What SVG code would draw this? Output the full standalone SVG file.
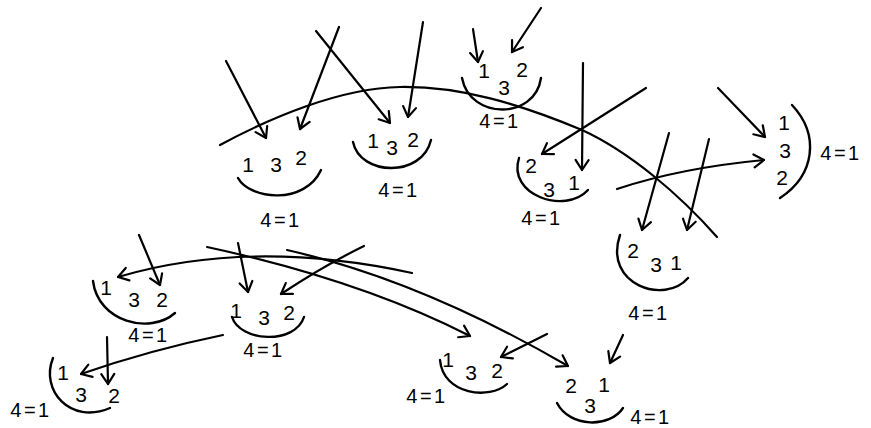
<svg xmlns="http://www.w3.org/2000/svg" width="871" height="428" viewBox="0 0 871 428">
<style>
.ln{fill:none;stroke:#000;stroke-width:2.2;stroke-linecap:round;stroke-linejoin:round}
.ar{fill:none;stroke:#000;stroke-width:2.2;stroke-linecap:round;marker-end:url(#ah)}
.br{fill:none;stroke:#000;stroke-width:2.4;stroke-linecap:round}
.d{font-family:"Liberation Sans",Arial,sans-serif;font-size:21px;text-anchor:middle;fill:#000}
.lb{font-family:"Liberation Sans",Arial,sans-serif;font-size:20px;text-anchor:middle;fill:#000;letter-spacing:2.5px}
</style>
<defs>
<marker id="ah" viewBox="-12 -8 14 16" refX="0" refY="0" markerWidth="14" markerHeight="16" markerUnits="userSpaceOnUse" orient="auto">
<path d="M-10,-6.5 L0,0 L-10,6.5" fill="none" stroke="#000" stroke-width="2.2" stroke-linecap="round" stroke-linejoin="round"/>
</marker>
</defs>
<g id="connectors">
<path class="ln" d="M220,145 C270,118 340,88 400,87 C460,86 520,104 582,130 C630,152 680,195 717,237"/>
<path class="ar" d="M226,61 L266,138"/>
<path class="ar" d="M339,27 L300,129"/>
<path class="ar" d="M316,31 L390,123"/>
<path class="ar" d="M423,22 L408,117"/>
<path class="ar" d="M473,29 L478,62"/>
<path class="ar" d="M541,8 L512,52"/>
<path class="ar" d="M583,63 L582,170"/>
<path class="ar" d="M646,88 L542,154"/>
<path class="ar" d="M718,88 L765,137"/>
<path class="ar" d="M617,189 Q680,168 764,160"/>
<path class="ar" d="M669,133 L642,230"/>
<path class="ar" d="M709,139 L687,230"/>
<path class="ar" d="M412,273 Q250,238 118,277"/>
<path class="ar" d="M139,235 L160,285"/>
<path class="ar" d="M238,243 L248,292"/>
<path class="ar" d="M364,246 Q325,265 281,294"/>
<path class="ar" d="M223,335 Q150,350 81,374"/>
<path class="ar" d="M107,337 L108,384"/>
<path class="ar" d="M207,247 Q360,280 470,336"/>
<path class="ar" d="M287,250 Q420,280 568,366"/>
<path class="ar" d="M547,334 L501,357"/>
<path class="ar" d="M623,335 L610,363"/>
</g>
<g id="nodeA">
<path class="br" d="M238,178 C250,200 305,205 321,170"/>
<text class="d" x="248" y="172">1</text><text class="d" x="276" y="172">3</text><text class="d" x="301" y="165">2</text>
<text class="lb" x="281" y="227">4=1</text>
</g>
<g id="nodeB">
<path class="br" d="M353,142 C360,176 422,178 431,140"/>
<text class="d" x="373" y="148">1</text><text class="d" x="392" y="155">3</text><text class="d" x="413" y="147">2</text>
<text class="lb" x="399" y="197">4=1</text>
</g>
<g id="nodeC">
<path class="br" d="M462,78 C470,120 535,120 541,78"/>
<text class="d" x="484" y="78">1</text><text class="d" x="504" y="95">3</text><text class="d" x="522" y="77">2</text>
<text class="lb" x="500" y="128">4=1</text>
</g>
<g id="nodeE">
<path class="br" d="M519,158 C507,195 565,215 588,190"/>
<text class="d" x="531" y="173">2</text><text class="d" x="549" y="197">3</text><text class="d" x="574" y="190">1</text>
<text class="lb" x="542" y="225">4=1</text>
</g>
<g id="nodeF">
<path class="br" d="M620,235 C603,285 665,305 688,278"/>
<text class="d" x="633" y="258">2</text><text class="d" x="656" y="272">3</text><text class="d" x="676" y="270">1</text>
<text class="lb" x="649" y="320">4=1</text>
</g>
<g id="nodeG">
<path class="br" d="M792,105 C820,135 815,175 780,198"/>
<text class="d" x="784" y="130">1</text><text class="d" x="785" y="158">3</text><text class="d" x="782" y="185">2</text>
<text class="lb" x="841" y="160">4=1</text>
</g>
<g id="nodeH">
<path class="br" d="M93,281 C98,322 150,335 175,313"/>
<text class="d" x="106" y="295">1</text><text class="d" x="134" y="307">3</text><text class="d" x="162" y="307">2</text>
<text class="lb" x="149" y="342">4=1</text>
</g>
<g id="nodeD">
<path class="br" d="M232,317 C240,342 295,345 304,317"/>
<text class="d" x="236" y="318">1</text><text class="d" x="264" y="325">3</text><text class="d" x="289" y="320">2</text>
<text class="lb" x="264" y="357">4=1</text>
</g>
<g id="nodeI">
<path class="br" d="M53,358 C40,390 70,425 110,408"/>
<text class="d" x="63" y="380">1</text><text class="d" x="81" y="402">3</text><text class="d" x="114" y="403">2</text>
<text class="lb" x="31" y="417">4=1</text>
</g>
<g id="nodeJ">
<path class="br" d="M440,360 C443,395 490,400 507,384"/>
<text class="d" x="448" y="367">1</text><text class="d" x="471" y="380">3</text><text class="d" x="497" y="378">2</text>
<text class="lb" x="427" y="403">4=1</text>
</g>
<g id="nodeK">
<path class="br" d="M557,403 C570,428 610,428 623,408"/>
<text class="d" x="571" y="393">2</text><text class="d" x="604" y="392">1</text><text class="d" x="590" y="413">3</text>
<text class="lb" x="651" y="424">4=1</text>
</g>
</svg>
